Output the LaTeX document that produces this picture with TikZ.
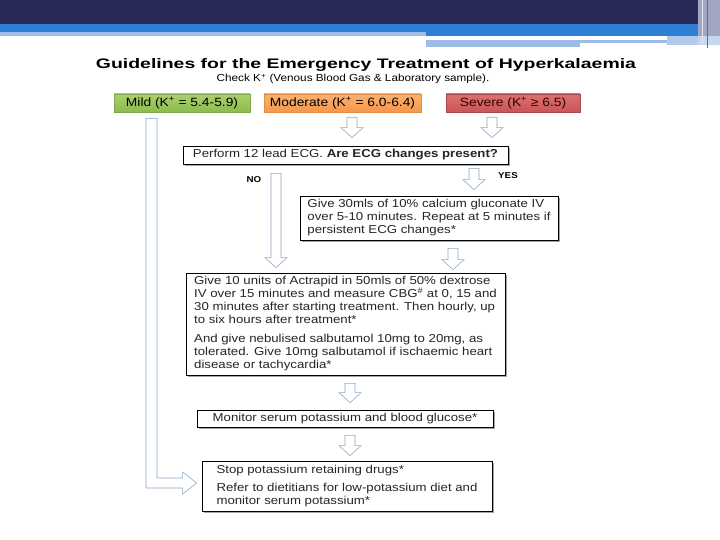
\documentclass[tikz,border=0pt]{standalone}
\usepackage{fontspec}
\setmainfont{Liberation Sans}[FakeStretch=1.15]
\usetikzlibrary{calc,shadows}

\definecolor{bandnavy}{HTML}{272A56}
\definecolor{bandblue}{HTML}{2E80D5}
\definecolor{bandpale}{HTML}{9DBDE6}
\definecolor{bandgrey}{HTML}{A3A6C2}
\definecolor{arrowline}{HTML}{8FA8C4}
\definecolor{mildtop}{HTML}{AAD06C}
\definecolor{mildbot}{HTML}{8DBB4E}
\definecolor{mildline}{HTML}{7FA84A}
\definecolor{modtop}{HTML}{FBB16D}
\definecolor{modbot}{HTML}{F5974C}
\definecolor{modline}{HTML}{E48B3F}
\definecolor{sevtop}{HTML}{DC7171}
\definecolor{sevbot}{HTML}{C95555}
\definecolor{sevline}{HTML}{A94848}

\tikzset{
  stepbox/.style={draw=black, fill=white, line width=0.7pt, inner sep=0pt,
    drop shadow={shadow xshift=1.8pt, shadow yshift=-1.8pt, opacity=.5, fill=black!70}},
  level/.style={draw, line width=0.6pt, inner sep=0pt, minimum height=18pt,
    font=\fontsize{12}{14}\selectfont},
  body/.style={align=left, font=\fontsize{11.5}{13}\selectfont, text=black!85},
  tag/.style={font=\fontsize{8.5}{10}\selectfont\bfseries, anchor=base},
  hollow/.style={draw=arrowline, fill=white, line width=0.6pt, line join=miter},
}

% hollow block arrow, downwards, x taken from the first point
\newcommand\blockarrow[2]{%
  \draw[hollow] let \p1=(#1), \p2=(#2) in
    (\x1-5pt,\y1) -- (\x1+5pt,\y1) -- (\x1+5pt,\y2+10pt) -- (\x1+11pt,\y2+10pt)
    -- (\x1,\y2) -- (\x1-11pt,\y2+10pt) -- (\x1-5pt,\y2+10pt) -- cycle;}

\begin{document}
\begin{tikzpicture}[x=1pt, y=-1pt]
  \useasboundingbox (0,0) rectangle (720,540);

  %%%%% slide band %%%%%
  \fill[bandnavy] (0,0) rectangle (698,24);
  \fill[bandblue] (0,24) rectangle (698,32);
  \fill[bandblue] (426,32) rectangle (698,36);
  \fill[bandpale] (0,32) rectangle (426,36);
  \fill[bandpale] (426,40) rectangle (580,47);
  \fill[bandpale] (580,40) rectangle (667,43);
  \fill[bandpale!80] (667,36) rectangle (700,45);
  \fill[bandgrey] (698,0) rectangle (720,36);
  \fill[bandpale!60] (698,36) rectangle (720,45);
  \draw[bandnavy!70, line width=0.8pt] (707,0) -- (707,48);
  \draw[white!70!bandgrey, line width=1pt] (702,0) -- (702,44);

  %%%%% title %%%%%
  \node[anchor=base, inner sep=0pt] (title) at (366,69)
    {\resizebox{540pt}{10pt}{\bfseries Guidelines for the Emergency Treatment of Hyperkalaemia}};
  \node[anchor=base, inner sep=0pt, font=\fontsize{10.2}{12}\selectfont] (check) at (353,82)
    {Check K\textsuperscript{+} (Venous Blood Gas \& Laboratory sample).};

  %%%%% potassium levels %%%%%
  \node[level, draw=mildline, top color=mildtop, bottom color=mildbot, minimum width=136pt]
    (mild) at (182,103) {Mild (K\textsuperscript{+} = 5.4-5.9)};
  \node[level, draw=modline, top color=modtop, bottom color=modbot, minimum width=157pt]
    (mod) at (342.5,103) {Moderate (K\textsuperscript{+} = 6.0-6.4)};
  \node[level, draw=sevline, top color=sevtop, bottom color=sevbot, minimum width=134pt,
    text=black!80!red] (sev) at (513,103) {Severe (K\textsuperscript{+} ≥ 6.5)};

  %%%%% steps %%%%%
  \node[stepbox, body, minimum width=325pt, minimum height=18pt] (ecg) at (345.5,155)
    {Perform 12 lead ECG. \textbf{Are ECG changes present?}};
  \node[stepbox, body, minimum width=258pt, minimum height=44pt] (calc) at (429,218)
    {Give 30mls of 10\% calcium gluconate IV\\
     over 5-10 minutes. Repeat at 5 minutes if\\
     persistent ECG changes*};
  \node[stepbox, body, minimum width=319pt, minimum height=102pt] (insulin) at (345.5,324)
    {Give 10 units of Actrapid in 50mls of 50\% dextrose\\
     IV over 15 minutes and measure CBG\textsuperscript{\#} at 0, 15 and\\
     30 minutes after starting treatment. Then hourly, up\\
     to six hours after treatment*\\[6pt]
     And give nebulised salbutamol 10mg to 20mg, as\\
     tolerated. Give 10mg salbutamol if ischaemic heart\\
     disease or tachycardia*};
  \node[stepbox, body, minimum width=296pt, minimum height=17pt] (monitor) at (345,418.5)
    {Monitor serum potassium and blood glucose*};
  \node[stepbox, body, minimum width=290pt, minimum height=50pt] (stop) at (347,486)
    {Stop potassium retaining drugs*\\[5pt]
     Refer to dietitians for low-potassium diet and\\
     monitor serum potassium*};

  \node[tag] (no) at (254,183) {NO};
  \node[tag] (yes) at (508,179) {YES};

  %%%%% arrows %%%%%
  \blockarrow{$(mod.south)+(9.5,5)$}{$(ecg.north)+(0,-8)$}
  \blockarrow{$(sev.south)+(-21,5)$}{$(ecg.north)+(0,-8)$}
  \blockarrow{$(ecg.south)+(-69.5,9)$}{$(insulin.north)+(0,-5)$}
  \blockarrow{$(ecg.south)+(128.5,4)$}{$(calc.north)+(0,-6)$}
  \blockarrow{$(calc.south)+(24,8)$}{$(insulin.north)+(0,-3)$}
  \blockarrow{$(insulin.south)+(4.5,8)$}{$(monitor.north)+(0,-7)$}
  \blockarrow{$(monitor.south)+(5,8)$}{$(stop.north)+(0,-5)$}

  % mild: straight down, then across to the last box
  \draw[hollow] let \p1=($(mild.south)+(-30.5,6)$), \p2=($(stop.west)+(-5,-3)$) in
    (\x1-5.5pt,\y1) -- (\x1+5.5pt,\y1) -- (\x1+5.5pt,\y2+5pt) -- (\x2-14pt,\y2+5pt)
    -- (\x2-14pt,\y2+11pt) -- (\x2,\y2) -- (\x2-14pt,\y2-11pt) -- (\x2-14pt,\y2-5pt)
    -- (\x1-5.5pt,\y2-5pt) -- cycle;
\end{tikzpicture}
\end{document}
